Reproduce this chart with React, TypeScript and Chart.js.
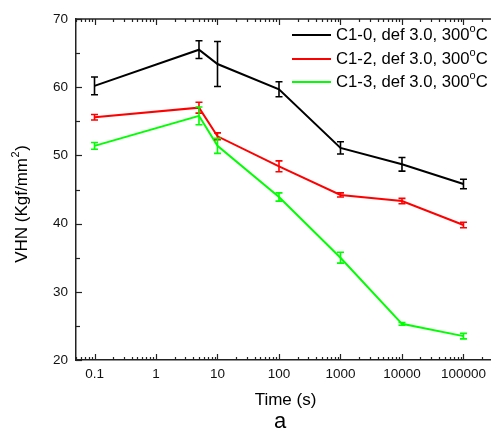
import React, { useEffect, useRef } from "react";
import { Chart, registerables } from "chart.js";

Chart.register(...registerables);

const times = [0.1, 5, 10, 100, 1000, 10000, 100000];
const c10 = [60.2, 65.5, 63.4, 59.7, 51.1, 48.7, 45.8];
const c10Err = [1.3, 1.3, 3.3, 1.1, 0.9, 1.0, 0.7];
const c12 = [55.6, 57.0, 52.8, 48.4, 44.2, 43.3, 39.8];
const c12Err = [0.4, 0.8, 0.5, 0.8, 0.3, 0.4, 0.4];
const c13 = [51.4, 55.8, 51.4, 43.9, 35.0, 25.3, 23.5];
const c13Err = [0.5, 1.3, 1.1, 0.6, 0.8, 0.2, 0.4];

const seriesNames = ["C1-0, def 3.0, 300", "C1-2, def 3.0, 300", "C1-3, def 3.0, 300"];
const seriesColors = ["#000000", "#ff0000", "#00ff00"];
const xTickValues = [0.1, 1, 10, 100, 1000, 10000, 100000];
const xTickLabels = ["0.1", "1", "10", "100", "1000", "10000", "100000"];
const yTickValues = [20, 30, 40, 50, 60, 70];

const FONT = "Arial, 'Liberation Sans', sans-serif";

const customPlugin = {
  id: "custom",
  afterDatasetsDraw(chart: any) {
    const ctx = chart.ctx;
    const xs = chart.scales.x;
    const ys = chart.scales.y;
    ctx.save();
    const errs = [c10Err, c12Err, c13Err];
    chart.data.datasets.forEach((ds: any, i: number) => {
      ctx.strokeStyle = seriesColors[i];
      ctx.lineWidth = 1.6;
      ds.data.forEach((p: any, j: number) => {
        const px = xs.getPixelForValue(p.x);
        const top = ys.getPixelForValue(p.y + errs[i][j]);
        const bot = ys.getPixelForValue(p.y - errs[i][j]);
        ctx.beginPath();
        ctx.moveTo(px, top);
        ctx.lineTo(px, bot);
        ctx.moveTo(px - 3.5, top);
        ctx.lineTo(px + 3.5, top);
        ctx.moveTo(px - 3.5, bot);
        ctx.lineTo(px + 3.5, bot);
        ctx.stroke();
      });
    });
    ctx.restore();
  },
  afterDraw(chart: any) {
    const ctx = chart.ctx;
    const xs = chart.scales.x;
    const ys = chart.scales.y;
    const area = chart.chartArea;
    ctx.save();
    ctx.strokeStyle = "#222";
    ctx.lineWidth = 1.5;
    ctx.beginPath();
    ctx.moveTo(area.left, area.top);
    ctx.lineTo(area.right, area.top);
    ctx.stroke();
    ctx.lineWidth = 1.2;
    for (let e = -2; e <= 6; e++) {
      for (let k = 1; k <= 9; k++) {
        const v = k * Math.pow(10, e);
        if (v < xs.min || v > xs.max) continue;
        const px = Math.round(xs.getPixelForValue(v)) + 0.5;
        const len = k === 1 ? 6 : 3;
        ctx.beginPath();
        ctx.moveTo(px, area.bottom);
        ctx.lineTo(px, area.bottom - len);
        ctx.moveTo(px, area.top);
        ctx.lineTo(px, area.top + len);
        ctx.stroke();
      }
    }
    for (let v = 20; v <= 70; v += 5) {
      const py = Math.round(ys.getPixelForValue(v)) + 0.5;
      const len = v % 10 === 0 ? 6 : 4;
      ctx.beginPath();
      ctx.moveTo(area.left, py);
      ctx.lineTo(area.left + len, py);
      ctx.stroke();
    }
    // legend
    ctx.textBaseline = "middle";
    ctx.textAlign = "left";
    const legY = [35, 59, 82];
    seriesNames.forEach((name, i) => {
      ctx.strokeStyle = seriesColors[i];
      ctx.lineWidth = 2;
      ctx.beginPath();
      ctx.moveTo(292, legY[i]);
      ctx.lineTo(331, legY[i]);
      ctx.stroke();
      ctx.fillStyle = "#000";
      ctx.font = `16.7px ${FONT}`;
      let x = 336;
      ctx.fillText(name, x, legY[i]);
      x += ctx.measureText(name).width;
      ctx.font = `11px ${FONT}`;
      ctx.fillText("o", x, legY[i] - 6);
      x += ctx.measureText("o").width;
      ctx.font = `16.7px ${FONT}`;
      ctx.fillText("C", x, legY[i]);
    });
    // y title
    ctx.save();
    ctx.translate(22, 204);
    ctx.rotate(-Math.PI / 2);
    const p1 = "VHN (Kgf/mm";
    const p3 = ")";
    ctx.font = `17px ${FONT}`;
    const w1 = ctx.measureText(p1).width;
    const w3 = ctx.measureText(p3).width;
    ctx.font = `11px ${FONT}`;
    const w2 = ctx.measureText("2").width;
    const total = w1 + w2 + w3 + 1;
    let x = -total / 2;
    ctx.fillStyle = "#000";
    ctx.textAlign = "left";
    ctx.textBaseline = "middle";
    ctx.font = `17px ${FONT}`;
    ctx.fillText(p1, x, 0);
    x += w1;
    ctx.font = `11px ${FONT}`;
    ctx.fillText("2", x + 0.5, -6);
    x += w2 + 1;
    ctx.font = `17px ${FONT}`;
    ctx.fillText(p3, x, 0);
    ctx.restore();
    // x title and caption
    ctx.fillStyle = "#000";
    ctx.textAlign = "center";
    ctx.textBaseline = "alphabetic";
    ctx.font = `17px ${FONT}`;
    ctx.fillText("Time (s)", 285.5, 405);
    ctx.font = `22px ${FONT}`;
    ctx.fillText("a", 280, 428);
    ctx.restore();
  },
};

export default function App() {
  const ref = useRef<HTMLCanvasElement>(null);
  useEffect(() => {
    if (!ref.current) return;
    const mk = (vals: number[]) => times.map((t, i) => ({ x: t, y: vals[i] }));
    const chart = new Chart(ref.current, {
      type: "line",
      data: {
        datasets: [c10, c12, c13].map((vals, i) => ({
          label: seriesNames[i],
          data: mk(vals),
          borderColor: seriesColors[i],
          backgroundColor: seriesColors[i],
          borderWidth: 2,
          pointRadius: 0,
          tension: 0,
        })),
      },
      options: {
        animation: false,
        responsive: false,
        maintainAspectRatio: false,
        layout: { padding: { top: 19, left: 0, right: 0, bottom: 0 } },
        plugins: { legend: { display: false }, tooltip: { enabled: false } },
        scales: {
          x: {
            type: "logarithmic",
            min: 0.05,
            max: 280000,
            afterBuildTicks: (s: any) => {
              s.ticks = xTickValues.map((v) => ({ value: v }));
            },
            afterFit: (s: any) => {
              s.height = 70;
            },
            ticks: {
              autoSkip: false,
              maxRotation: 0,
              padding: 6,
              color: "#111",
              font: { family: FONT, size: 13.5 },
              callback: (v: any) => {
                const idx = xTickValues.indexOf(Number(v));
                return idx >= 0 ? xTickLabels[idx] : "";
              },
            },
            grid: { display: true, drawOnChartArea: false, drawTicks: false },
            border: { display: true, color: "#222", width: 1.5 },
          },
          y: {
            type: "linear",
            min: 20,
            max: 70,
            afterBuildTicks: (s: any) => {
              s.ticks = yTickValues.map((v) => ({ value: v }));
            },
            afterFit: (s: any) => {
              s.width = 76;
            },
            ticks: {
              padding: 8,
              color: "#111",
              font: { family: FONT, size: 13.5 },
            },
            grid: { display: true, drawOnChartArea: false, drawTicks: false },
            border: { display: true, color: "#222", width: 1.5 },
          },
        },
      },
      plugins: [customPlugin],
    });
    return () => chart.destroy();
  }, []);
  return (
    <div style={{ position: "absolute", left: 0, top: 0, width: 492, height: 430, background: "#fff" }}>
      <canvas ref={ref} width={492} height={430} style={{ display: "block" }} />
    </div>
  );
}
